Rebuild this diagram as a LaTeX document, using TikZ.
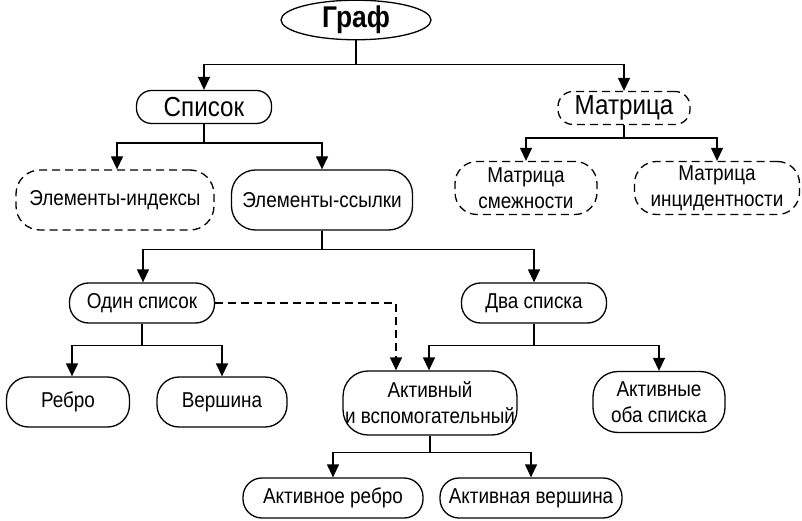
\documentclass[tikz,border=0pt]{standalone}
\usepackage{fontspec}
\setmainfont{Liberation Sans}[FakeStretch=0.88]
\usetikzlibrary{shapes.geometric,arrows.meta}

\begin{document}
\begin{tikzpicture}[x=1pt,y=-1pt,
    every node/.style={font=\fontsize{21.5}{26}\selectfont,align=center},
    blk/.style={shape=rectangle,rounded corners=#1,draw,line width=1.3pt,inner xsep=2pt,inner ysep=1pt},
    blk/.default=19pt,
    blkd/.style={blk=#1,dash pattern=on 8pt off 5pt},
    blkd/.default=19pt,
    arr/.style={line width=1.3pt,-{Triangle[length=13pt,width=12pt]}},
    arrd/.style={arr,dash pattern=on 8pt off 5pt}]
    \useasboundingbox (0,0) rectangle (802,521);
    \node[shape=ellipse,draw,line width=1.3pt,inner sep=0pt,minimum width=150pt,minimum height=35pt,font=\fontsize{30}{31}\selectfont\bfseries] (graf) at (356,20) {Граф};
    \node[blk=15pt,minimum width=135pt,minimum height=33pt,font=\fontsize{27.5}{29}\selectfont] (spisok) at (204,107) {Список};
    \node[blkd=15pt,minimum width=132pt,minimum height=33pt,font=\fontsize{27.5}{29}\selectfont] (matr) at (624,108) {Матрица};
    \node[blkd=24pt,minimum width=198pt,minimum height=60pt] (elind)   at (115,200) {Элементы-индексы};
    \node[blk=24pt,minimum width=181pt,minimum height=60pt]  (elssyl)  at (322,200) {Элементы-ссылки};
    \node[blkd=22pt,minimum width=142pt,minimum height=53pt] (msm)     at (526,188) {Матрица\\смежности};
    \node[blkd=22pt,minimum width=165pt,minimum height=53pt] (minc)    at (717,188) {Матрица\\инцидентности};
    \node[blk,minimum width=145pt,minimum height=40pt]  (odin)    at (142,303) {Один список};
    \node[blk,minimum width=145pt,minimum height=40pt]  (dva)     at (534,303) {Два списка};
    \node[blk=22pt,minimum width=123pt,minimum height=50pt]  (rebro)   at (68,402)  {Ребро};
    \node[blk=22pt,minimum width=130pt,minimum height=50pt]  (versh)   at (222,402) {Вершина};
    \node[blk=25pt,minimum width=170pt,minimum height=64pt]  (aktiv)   at (430,403) {Активный\\и вспомогательный};
    \node[blk=25pt,minimum width=132pt,minimum height=61pt]  (oba)     at (659,402) {Активные\\оба списка};
    \node[blk,minimum width=180pt,minimum height=40pt]  (akreb)   at (333,498) {Активное ребро};
    \node[blk,minimum width=182pt,minimum height=40pt]  (akver)   at (531,498) {Активная вершина};
    \draw[arr] (graf.south) -- ++(0,24) -| (spisok.north);
    \draw[arr] (graf.south) -- ++(0,24) -| (matr.north);
    \draw[arr] (spisok.south) -- ++(0,19) -| ([xshift=2pt]elind.north);
    \draw[arr] (spisok.south) -- ++(0,19) -| (elssyl.north);
    \draw[arr] (matr.south) -- ++(0,13) -| (msm.north);
    \draw[arr] (matr.south) -- ++(0,13) -| (minc.north);
    \draw[arr] (elssyl.south) -- ++(0,19) -| ([xshift=1pt]odin.north);
    \draw[arr] (elssyl.south) -- ++(0,19) -| (dva.north);
    \draw[arr] (odin.south) -- ++(0,22) -| ([xshift=4pt]rebro.north);
    \draw[arr] (odin.south) -- ++(0,22) -| (versh.north);
    \draw[arr] (dva.south) -- ++(0,22) -| ([xshift=-1pt]aktiv.north);
    \draw[arr] (dva.south) -- ++(0,22) -| (oba.north);
    \draw[arrd] (odin.east) -| ([xshift=-34pt]aktiv.north);
    \draw[arr] (aktiv.south) -- ++(0,17) -| (akreb.north);
    \draw[arr] (aktiv.south) -- ++(0,17) -| (akver.north);
\end{tikzpicture}
\end{document}
